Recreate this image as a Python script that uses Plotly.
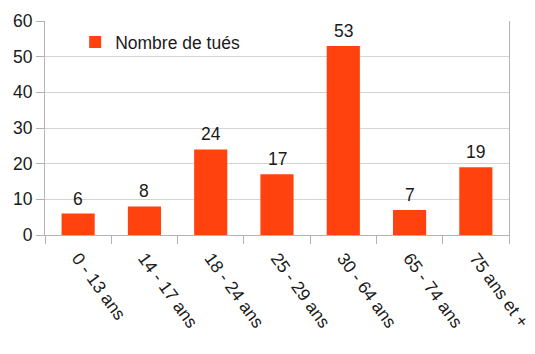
import plotly.graph_objects as go

categories = ["0 - 13 ans", "14 - 17 ans", "18 - 24 ans", "25 - 29 ans",
              "30 - 64 ans", "65 - 74 ans", "75 ans et +"]
tues = [6, 8, 24, 17, 53, 7, 19]
series_name = "Nombre de tués"
y_ticks = [0, 10, 20, 30, 40, 50, 60]

bar_color = "#ff420e"
grid_color = "#d4d4d4"
axis_color = "#b3b3b3"
text_color = "#1a1a1a"
font_family = "Liberation Sans, Arial, sans-serif"
font_size = 17.5

fig = go.Figure()
fig.add_trace(go.Bar(
    x=categories,
    y=tues,
    name=series_name,
    marker=dict(color=bar_color, line=dict(width=0)),
))

# value labels sitting a little above each bar
for cat, val in zip(categories, tues):
    fig.add_annotation(
        x=cat, y=val, text=str(val),
        showarrow=False, yanchor="bottom", yshift=3,
        font=dict(size=font_size, color=text_color, family=font_family),
    )

fig.update_layout(
    width=535, height=354,
    margin=dict(l=45, r=26, t=21, b=119, autoexpand=False),
    paper_bgcolor="white",
    plot_bgcolor="white",
    bargap=0.5,
    font=dict(family=font_family, size=font_size, color=text_color),
    showlegend=True,
    legend=dict(
        x=0.065, y=0.985, xanchor="left", yanchor="top",
        bgcolor="rgba(0,0,0,0)",
        font=dict(size=font_size, color=text_color),
        itemwidth=30,
    ),
)

fig.update_xaxes(
    type="category",
    tickson="boundaries",
    automargin=False,
    ticks="outside", ticklen=8, tickcolor=axis_color, tickwidth=1,
    showline=True, linecolor=axis_color, linewidth=1,
    showgrid=False,
    tickangle=54,
    ticklabelstandoff=5,
    tickfont=dict(size=font_size, color=text_color),
)
fig.update_yaxes(
    range=[0, 60],
    tickvals=y_ticks,
    automargin=False,
    ticks="outside", ticklen=8, tickcolor=axis_color, tickwidth=1,
    showline=True, linecolor=axis_color, linewidth=1, mirror=True,
    showgrid=True, gridcolor=grid_color, gridwidth=1,
    zeroline=False,
    tickfont=dict(size=font_size, color=text_color),
)

fig.write_html("out.html")
